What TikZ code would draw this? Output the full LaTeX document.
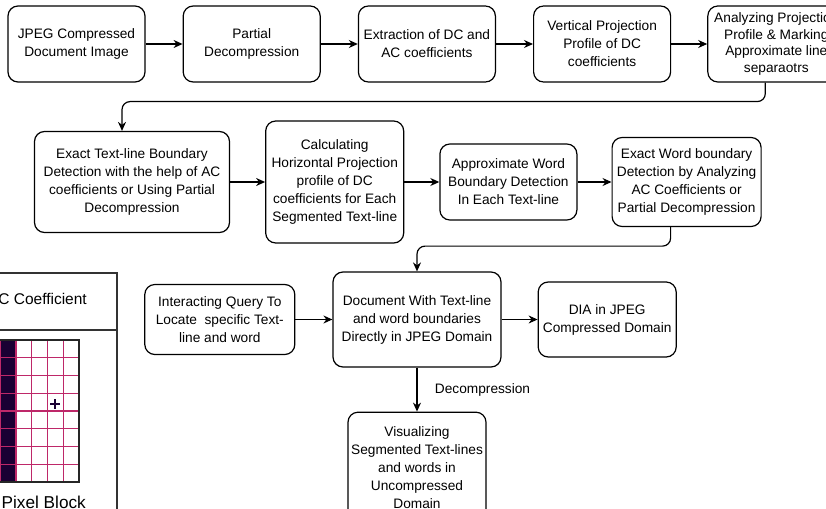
\documentclass[tikz,border=0pt]{standalone}
\usepackage{fontspec}
\setmainfont{Liberation Sans}
\usetikzlibrary{arrows.meta, positioning}
\definecolor{dcfill}{RGB}{26,0,51}
\definecolor{gridpink}{RGB}{190,40,105}
\newcommand{\boxfont}{\fontsize{13.7}{18}\selectfont}

\begin{document}
\begin{tikzpicture}[
        x=1pt, y=-1pt,
        node distance=37pt,
        proc_box/.style={rectangle, draw=black, line width=1.2pt, rounded corners=10pt, align=center, font=\boxfont, inner sep=2pt},
        row_one/.style={proc_box, minimum width=137pt, minimum height=76pt},
        arrow/.style={-{Stealth[length=9pt,width=8pt]}, line width=1.2pt},
        grid_line/.style={draw=gridpink, line width=1.1pt}
    ]
    \useasboundingbox (0,0) rectangle (826,508);
    \clip (0,0) rectangle (826,508);

    \node[row_one] (jpeg) at (76.5,44) {JPEG Compressed\\Document Image};
    \node[row_one] (partial) [right=of jpeg] {Partial\\Decompression};
    \node[row_one] (extract) [right=of partial] {Extraction of DC and\\AC coefficients};
    \node[row_one] (vproj) [right=of extract] {Vertical Projection\\Profile of DC\\coefficients};
    \node[row_one, font=\fontsize{13.7}{16.5}\selectfont] (marking) [right=36pt of vproj] {Analyzing Projection\\Profile \& Marking\\Approximate line\\separaotrs};

    \node[proc_box, minimum width=195pt, minimum height=101pt] (exactline) at (132,182) {Exact Text-line Boundary\\Detection with the help of AC\\coefficients or Using Partial\\Decompression};
    \node[proc_box, minimum width=138pt, minimum height=122pt] (hproj) [right=35pt of exactline] {Calculating\\Horizontal Projection\\profile of DC\\coefficients for Each\\Segmented Text-line};
    \node[proc_box, minimum width=137pt, minimum height=76pt] (approxword) [right=35pt of hproj] {Approximate Word\\Boundary Detection\\In Each Text-line};
    \node[proc_box, minimum width=149pt, minimum height=89pt] (exactword) [right=34pt of approxword] {Exact Word boundary\\Detection by Analyzing\\AC Coefficients or\\Partial Decompression};

    \node[proc_box, minimum width=168pt, minimum height=95pt] (docbound) at (417,319.5) {Document With Text-line\\and word boundaries\\Directly in JPEG Domain};
    \node[proc_box, minimum width=150pt, minimum height=70pt] (query) [left=37pt of docbound] {Interacting Query To\\Locate\ \ specific Text-\\line and word};
    \node[proc_box, minimum width=138pt, minimum height=75pt] (dia) [right=36pt of docbound] {DIA in JPEG\\Compressed Domain};
    \node[proc_box, minimum width=138pt, minimum height=110pt] (visual) [below=44pt of docbound] {Visualizing\\Segmented Text-lines\\and words in\\Uncompressed\\Domain};

    \draw[arrow] (jpeg) -- (partial);
    \draw[arrow] (partial) -- (extract);
    \draw[arrow] (extract) -- (vproj);
    \draw[arrow] (vproj) -- (marking);
    \draw[arrow, rounded corners=8pt] ([xshift=-11pt]marking.south) -- ++(0,19) -| ([xshift=-10pt]exactline.north);
    \draw[arrow] (exactline) -- (hproj);
    \draw[arrow] (hproj) -- (approxword);
    \draw[arrow] (approxword) -- (exactword);
    \draw[arrow, rounded corners=8pt] ([xshift=-16pt]exactword.south) -- ++(0,19) -| (docbound.north);
    \draw[arrow] (query) -- (docbound);
    \draw[arrow] (docbound) -- (dia);
    \draw[arrow] (docbound) -- (visual) node[midway, right=14pt, font=\boxfont] (decomp) {Decompression};

    \draw[line width=1.2pt, black!80] (-40,273) rectangle (117,560);
    \draw[line width=1.2pt, black!80] (-40,330) -- (117,330);
    \node[anchor=base east, inner sep=0pt, font=\fontsize{15.5}{18}\selectfont] (actext) at (87,304) {AC Coefficient};
    \fill[dcfill] (-47,340) rectangle (16,482);
    \foreach \i in {1,...,7}
        \draw[grid_line] (79-\i*15.75,340) -- (79-\i*15.75,482);
    \foreach \j in {1,...,7}
        \draw[grid_line] (-47,340+\j*17.75) -- (79,340+\j*17.75);
    \draw[line width=1.2pt, black!85] (-47,340) rectangle (79,482);
    \draw[dcfill, line width=1.5pt] (50,404) -- (60,404) (55,399) -- (55,409);
    \node[anchor=base east, inner sep=0pt, font=\fontsize{17.2}{20}\selectfont] (pxtext) at (86,508) {Pixel Block};
\end{tikzpicture}
\end{document}
